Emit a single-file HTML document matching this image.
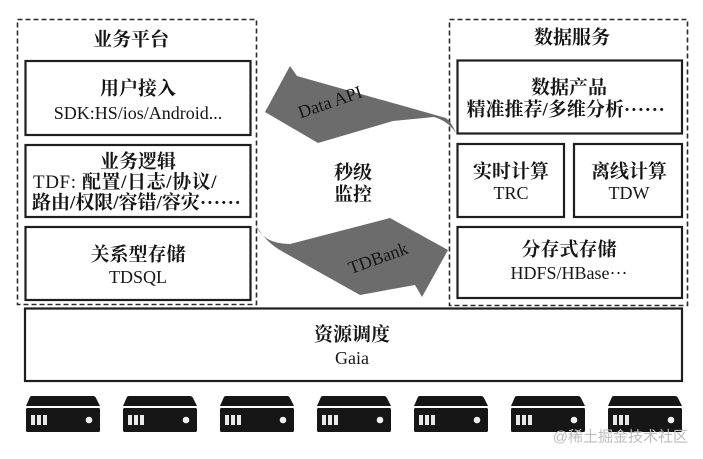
<!DOCTYPE html>
<html>
<head>
<meta charset="utf-8">
<style>
html,body{margin:0;padding:0;background:#fff;}
body{width:703px;height:459px;overflow:hidden;}
svg{display:block;}
.cn{font-family:"Liberation Serif","Noto Serif CJK SC",serif;font-weight:700;font-size:19px;fill:#151515;}
.lt{font-family:"Liberation Serif","Noto Serif CJK SC",serif;font-weight:400;font-size:18px;fill:#151515;}
.mx{font-family:"Liberation Serif","Noto Serif CJK SC",serif;font-size:19px;fill:#151515;}
.el{font-family:"Liberation Serif",serif;font-weight:700;letter-spacing:0.6px;}
.box{fill:none;stroke:#1e1e1e;stroke-width:2.2;}
.dash{fill:none;stroke:#2a2a2a;stroke-width:1.6;stroke-dasharray:5 3;}
.wm{font-family:"Liberation Sans","Noto Sans CJK SC",sans-serif;font-size:15px;fill:#bdbdbd;}
</style>
</head>
<body>
<svg width="703" height="459" viewBox="0 0 703 459" xmlns="http://www.w3.org/2000/svg">
  <!-- dashed containers -->
  <rect class="dash" x="17.5" y="19.5" width="239" height="285"/>
  <rect class="dash" x="449.5" y="19.5" width="238" height="286"/>

  <!-- left titles & boxes -->
  <text class="cn" x="131" y="40" text-anchor="middle" dominant-baseline="central">业务平台</text>

  <rect class="box" x="25.5" y="61" width="225" height="74"/>
  <text class="cn" x="138" y="89" text-anchor="middle" dominant-baseline="central">用户接入</text>
  <text class="lt" x="138" y="113" text-anchor="middle" dominant-baseline="central">SDK:HS/ios/Android...</text>

  <rect class="box" x="25.5" y="145" width="225" height="72"/>
  <text class="cn" x="138" y="162" text-anchor="middle" dominant-baseline="central">业务逻辑</text>
  <text class="mx" x="33" y="182" dominant-baseline="central" letter-spacing="0.6"><tspan font-weight="400">TDF: </tspan><tspan font-weight="700">配置/日志/协议/</tspan></text>
  <text class="cn" x="32" y="203" dominant-baseline="central">路由/权限/容错/容灾<tspan class="el">······</tspan></text>

  <rect class="box" x="25.5" y="227" width="225" height="73"/>
  <text class="cn" x="138" y="255" text-anchor="middle" dominant-baseline="central">关系型存储</text>
  <text class="lt" x="138" y="277" text-anchor="middle" dominant-baseline="central">TDSQL</text>

  <!-- right titles & boxes -->
  <text class="cn" x="572" y="38" text-anchor="middle" dominant-baseline="central">数据服务</text>

  <rect class="box" x="457.5" y="60.5" width="224.5" height="73"/>
  <text class="cn" x="569" y="88" text-anchor="middle" dominant-baseline="central">数据产品</text>
  <text class="cn" x="566" y="110" text-anchor="middle" dominant-baseline="central">精准推荐/多维分析<tspan class="el">······</tspan></text>

  <rect class="box" x="457.5" y="144" width="106.5" height="73"/>
  <text class="cn" x="511" y="172" text-anchor="middle" dominant-baseline="central">实时计算</text>
  <text class="lt" x="511" y="193" text-anchor="middle" dominant-baseline="central">TRC</text>

  <rect class="box" x="574" y="144" width="108" height="73"/>
  <text class="cn" x="629" y="172" text-anchor="middle" dominant-baseline="central">离线计算</text>
  <text class="lt" x="629" y="193" text-anchor="middle" dominant-baseline="central">TDW</text>

  <rect class="box" x="457.5" y="227" width="224.5" height="71"/>
  <text class="cn" x="569" y="250" text-anchor="middle" dominant-baseline="central">分存式存储</text>
  <text class="lt" x="569" y="273" text-anchor="middle" dominant-baseline="central">HDFS/HBase···</text>

  <!-- middle label -->
  <text class="cn" x="353" y="173" text-anchor="middle" dominant-baseline="central">秒级</text>
  <text class="cn" x="353" y="195" text-anchor="middle" dominant-baseline="central">监控</text>

  <!-- Data API arrow -->
  <path d="M265,112 L290,66 L297,76 L446,118 Q452,123 456,133 Q448,121 434,117 L393,121 L318,143 Z" fill="#6c6c6c"/>
  <text class="lt" x="330" y="102" text-anchor="middle" dominant-baseline="central" font-size="17" fill="#1a1a1a" transform="rotate(-19 330 102)">Data API</text>

  <!-- TDBank arrow -->
  <path d="M255,223 Q262,244 290,244 L390,218 L448,250 L422,297 L415,285 L360,295 L285,253 Q264,242 255,223 Z" fill="#6c6c6c"/>
  <text class="lt" x="378" y="258" text-anchor="middle" dominant-baseline="central" font-size="17" fill="#1a1a1a" transform="rotate(-20 378 258)">TDBank</text>

  <!-- bottom box -->
  <rect class="box" x="25" y="308.5" width="657" height="72.5"/>
  <text class="cn" x="352" y="335" text-anchor="middle" dominant-baseline="central">资源调度</text>
  <text class="lt" x="352" y="358" text-anchor="middle" dominant-baseline="central">Gaia</text>

  <!-- servers -->
  <defs>
    <g id="srv">
      <path d="M6,396 L67,396 Q69,396 70,398 L74,406 L0,406 L3.5,398 Q4,396 6,396 Z" fill="#161616"/>
      <rect x="0" y="408" width="74" height="24" rx="1.5" fill="#161616"/>
      <rect x="5" y="415" width="4" height="10" fill="#e8e8e8"/>
      <rect x="11" y="415" width="4" height="10" fill="#e8e8e8"/>
      <rect x="17" y="415" width="4" height="10" fill="#e8e8e8"/>
      <circle cx="63" cy="420" r="3.3" fill="#f0f0f0"/>
    </g>
  </defs>
  <use href="#srv" x="26"/>
  <use href="#srv" x="123"/>
  <use href="#srv" x="220"/>
  <use href="#srv" x="317"/>
  <use href="#srv" x="414"/>
  <use href="#srv" x="511"/>
  <use href="#srv" x="608"/>

  <!-- watermark -->
  <text class="wm" x="688" y="437" text-anchor="end" dominant-baseline="central">@稀土掘金技术社区</text>
</svg>
</body>
</html>
